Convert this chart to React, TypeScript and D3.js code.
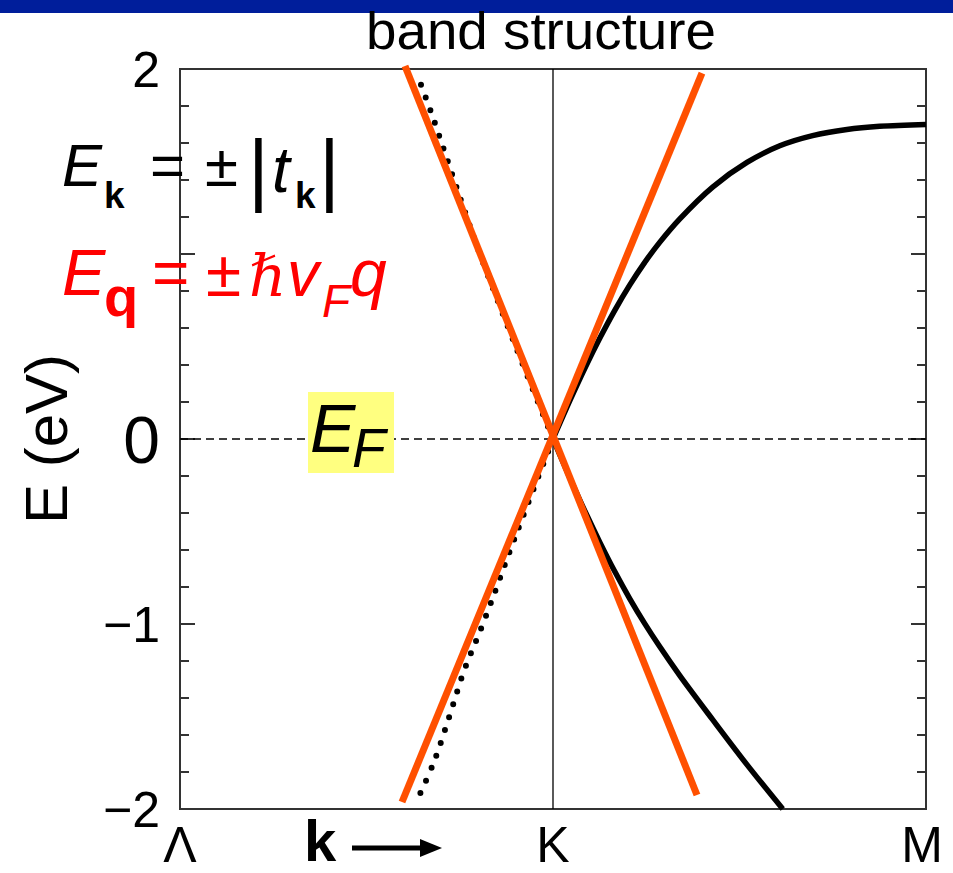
import React from "react";
import * as d3 from "d3";

// Band energies E(k) near the K point (k: Λ = 0, K = 0.5, M = 1; E in eV)
const conductionKM: [number, number][] = [
  [0.5, 0], [0.523, 0.211], [0.543, 0.385], [0.563, 0.547], [0.583, 0.697],
  [0.603, 0.833], [0.623, 0.955], [0.643, 1.063], [0.67, 1.19], [0.714, 1.362],
  [0.76, 1.495], [0.804, 1.585], [0.848, 1.64], [0.894, 1.673], [0.938, 1.69], [1.0, 1.7],
];
const valenceKM: [number, number][] = [
  [0.5, 0], [0.523, -0.214], [0.543, -0.392], [0.563, -0.56], [0.583, -0.718],
  [0.603, -0.864], [0.623, -0.998], [0.643, -1.122], [0.67, -1.279], [0.714, -1.517],
  [0.76, -1.76], [0.808, -2.0],
];
const conductionKL: [number, number][] = [
  [0.5, 0], [0.45, 0.5], [0.402, 1.0], [0.38, 1.25], [0.359, 1.5], [0.338, 1.75], [0.317, 1.98],
];
const valenceKL: [number, number][] = [
  [0.5, 0], [0.452, -0.5], [0.406, -1.0], [0.381, -1.25], [0.361, -1.5], [0.34, -1.75], [0.318, -1.95],
];
// Linear (Dirac cone) approximation E = ±ħ v_F q
const diracDown: [number, number][] = [[0.3016, 2.016], [0.693, -1.924]];
const diracUp: [number, number][] = [[0.2976, -1.962], [0.6997, 1.978]];

const kPoints = [
  { label: "Λ", k: 0 },
  { label: "K", k: 0.5 },
  { label: "M", k: 1 },
];
const energyTicks = [2, 0, -1, -2];
const energyTickLabels = ["2", "0", "−1", "−2"];
const energyTickSizes = [50, 66, 50, 50];

const W = 953;
const H = 873;
const SANS = "'Liberation Sans', Arial, Helvetica, sans-serif";

export default function App() {
  const x = d3.scaleLinear().domain([0, 1]).range([180, 926]);
  const y = d3.scaleLinear().domain([-2, 2]).range([809, 69]);

  const smooth = d3
    .line<[number, number]>()
    .x((d) => x(d[0]))
    .y((d) => y(d[1]))
    .curve(d3.curveCatmullRom.alpha(0.5));
  const straight = d3
    .line<[number, number]>()
    .x((d) => x(d[0]))
    .y((d) => y(d[1]));

  const minorTicks = d3.range(-10, 11).map((i) => i / 5);

  const [x0, x1] = x.range();
  const [yb, yt] = y.range();

  return (
    <svg
      width={W}
      height={H}
      viewBox={`0 0 ${W} ${H}`}
      style={{ position: "absolute", left: 0, top: 0, background: "#fff" }}
    >
      <rect x={0} y={0} width={W} height={H} fill="#fff" />
      {/* header bar */}
      <rect x={0} y={0} width={W} height={13} fill="#001e9b" />

      {/* title */}
      <text
        x={366}
        y={49}
        fontFamily={SANS}
        fontSize={51}
        textLength={350}
        lengthAdjust="spacingAndGlyphs"
        fill="#000"
      >
        band structure
      </text>

      {/* frame */}
      <rect x={x0} y={yt} width={x1 - x0} height={yb - yt} fill="none" stroke="#333" strokeWidth={2} />

      {/* energy ticks on both sides */}
      {minorTicks.map((v) => {
        const major = Math.abs(v - Math.round(v)) < 1e-9;
        const len = major ? 15 : 9;
        if (v === 2 || v === -2) return null;
        return (
          <g key={v}>
            <line x1={x0} x2={x0 + len} y1={y(v)} y2={y(v)} stroke="#333" strokeWidth={2} />
            <line x1={x1} x2={x1 - len} y1={y(v)} y2={y(v)} stroke="#333" strokeWidth={2} />
          </g>
        );
      })}

      {/* K vertical line */}
      <line x1={x(0.5)} x2={x(0.5)} y1={yt} y2={yb} stroke="#000" strokeWidth={1.3} />
      {/* Fermi level */}
      <line
        x1={x0}
        x2={x1}
        y1={y(0)}
        y2={y(0)}
        stroke="#000"
        strokeWidth={1.5}
        strokeDasharray="8 5"
      />

      {/* tight-binding bands */}
      <path d={smooth(conductionKM) || ""} fill="none" stroke="#000" strokeWidth={5.5} />
      <path d={smooth(valenceKM) || ""} fill="none" stroke="#000" strokeWidth={5.5} />
      <path
        d={smooth(conductionKL) || ""}
        fill="none"
        stroke="#000"
        strokeWidth={6}
        strokeLinecap="round"
        strokeDasharray="0 13.5"
      />
      <path
        d={smooth(valenceKL) || ""}
        fill="none"
        stroke="#000"
        strokeWidth={6}
        strokeLinecap="round"
        strokeDasharray="0 13.5"
      />

      {/* Dirac cone */}
      <path d={straight(diracDown) || ""} fill="none" stroke="#ff5000" strokeWidth={7} />
      <path d={straight(diracUp) || ""} fill="none" stroke="#ff5000" strokeWidth={7} />

      {/* energy tick labels */}
      {energyTicks.map((v, i) => (
        <text
          key={v}
          x={160}
          y={y(v) + energyTickSizes[i] * 0.36}
          textAnchor="end"
          fontFamily={SANS}
          fontSize={energyTickSizes[i]}
          fill="#000"
        >
          {energyTickLabels[i]}
        </text>
      ))}

      {/* y-axis title */}
      <text
        transform={`translate(67, ${y(0)}) rotate(-90)`}
        textAnchor="middle"
        fontFamily={SANS}
        fontSize={60}
        fill="#000"
      >
        E  (eV)
      </text>

      {/* k-point labels */}
      {kPoints.map((p) => (
        <text
          key={p.label}
          x={p.k === 1 ? x(p.k) - 4 : x(p.k)}
          y={862}
          textAnchor="middle"
          fontFamily={SANS}
          fontSize={50}
          fill="#000"
        >
          {p.label}
        </text>
      ))}

      {/* k arrow */}
      <text x={304} y={861} fontFamily={SANS} fontWeight="bold" fontSize={58} fill="#000">
        k
      </text>
      <line x1={352} x2={424} y1={848} y2={848} stroke="#000" strokeWidth={5} />
      <path d="M420,839 L442,848 L420,857 Z" fill="#000" />

      {/* E_k = ±|t_k| */}
      <g fontFamily={SANS} fill="#000">
        <text x={62} y={186} fontSize={60} fontStyle="italic">E</text>
        <text x={104} y={208} fontSize={37} fontWeight="bold">k</text>
        <text x={150} y={186} fontSize={60}>=</text>
        <text x={205} y={186} fontSize={60}>±</text>
        <text x={248} y={196} fontSize={80}>|</text>
        <text x={272} y={192} fontSize={64} fontStyle="italic">t</text>
        <text x={295} y={208} fontSize={37} fontWeight="bold">k</text>
        <text x={319} y={196} fontSize={80}>|</text>
      </g>

      {/* E_q = ±ħ v_F q */}
      <g fontFamily={SANS} fill="#ff0000">
        <text x={62} y={295} fontSize={65} fontStyle="italic">E</text>
        <text x={104} y={316} fontSize={56} fontWeight="bold">q</text>
        <text x={152} y={295} fontSize={64}>=</text>
        <text x={206} y={296} fontSize={64}>±</text>
        <text
          x={249}
          y={296}
          fontSize={58}
          fontStyle="italic"
          fontFamily="'DejaVu Serif', 'Liberation Serif', serif"
        >
          ℏ
        </text>
        <text x={287} y={296} fontSize={64} fontStyle="italic">v</text>
        <text x={322} y={317} fontSize={46} fontStyle="italic">F</text>
        <text x={350} y={296} fontSize={66} fontStyle="italic">q</text>
      </g>

      {/* Fermi level tag */}
      <rect x={308} y={392} width={86} height={81} fill="#ffff80" />
      <g fontFamily={SANS} fill="#000" fontStyle="italic">
        <text x={310} y={452} fontSize={68}>E</text>
        <text x={352} y={467} fontSize={55}>F</text>
      </g>
    </svg>
  );
}
